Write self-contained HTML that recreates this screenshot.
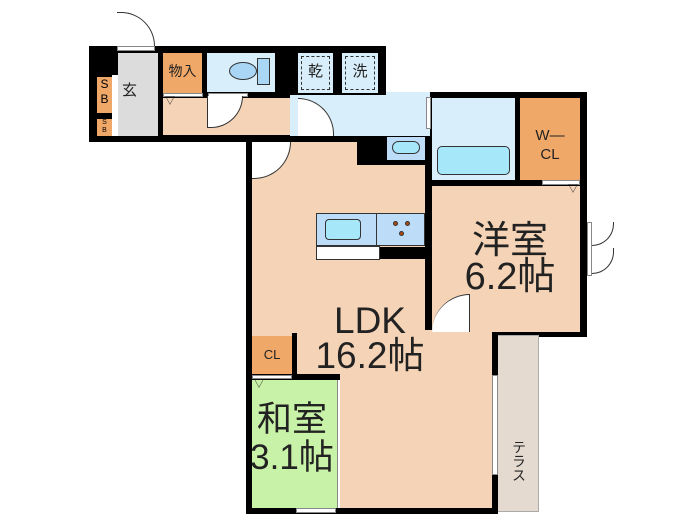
<!DOCTYPE html>
<html><head><meta charset="utf-8"><style>
body{margin:0;background:#fff;width:700px;height:525px;position:relative;overflow:hidden;font-family:"Liberation Sans","Noto Sans CJK JP",sans-serif}
div{position:absolute;box-sizing:border-box}
.k{background:#000}
.t{color:#222;text-align:center;line-height:1}
.dot{width:5px;height:5px;border-radius:50%;background:#b04a10;border:1px solid #333}
</style></head><body>
<div class="k" style="left:89px;top:46px;width:297px;height:96px"></div>
<div class="k" style="left:386px;top:92px;width:201px;height:50px"></div>
<div class="k" style="left:246px;top:135px;width:341px;height:202px"></div>
<div class="k" style="left:246px;top:330px;width:252px;height:184px"></div>
<div style="left:498px;top:335px;width:41px;height:177px;background:#e4dad0;border:1px solid #aaa;border-left:none"></div>
<div style="left:118px;top:53px;width:40px;height:83px;background:#dcdcdc"></div>
<div style="left:112px;top:75px;width:6px;height:61px;background:#fff"></div>
<div style="left:97px;top:77px;width:15px;height:36px;background:#f0a868;font-size:12px;line-height:15px;text-align:center">S<br>B</div>
<div style="left:97px;top:119px;width:15px;height:17px;background:#f0a868;font-size:7px;line-height:8px;text-align:center">S<br>B</div>
<div class="t" style="left:122px;top:83px;font-size:15px">玄</div>
<div style="left:163px;top:53px;width:39px;height:40px;background:#f0a868"></div>
<div class="t" style="left:163px;top:64px;width:39px;font-size:14px">物入</div>
<div style="left:207px;top:53px;width:68px;height:39px;background:#d8eefb"></div>
<div style="left:229px;top:62px;width:28px;height:18px;border:1px solid #333;border-radius:50%;background:#a9d6f5"></div>
<div style="left:257px;top:58px;width:13px;height:27px;border:1px solid #333;background:#a9d6f5"></div>
<div style="left:298px;top:53px;width:35px;height:40px;background:#d8eefb"></div>
<div style="left:301px;top:56px;width:29px;height:34px;border:1px dashed #333"></div>
<div class="t" style="left:298px;top:64px;width:35px;font-size:15px">乾</div>
<div style="left:342px;top:53px;width:36px;height:40px;background:#d8eefb"></div>
<div style="left:345px;top:56px;width:30px;height:34px;border:1px dashed #333"></div>
<div class="t" style="left:342px;top:64px;width:36px;font-size:15px">洗</div>
<div style="left:163px;top:98px;width:127px;height:37px;background:#f4d3b6"></div>
<div style="left:163px;top:93px;width:40px;height:4px;background:#fff;border:1px solid #888"></div>
<div style="left:208px;top:93px;width:40px;height:4px;background:#fff;border:1px solid #888"></div>
<div class="t" style="left:165px;top:97px;font-size:10px">▽</div>
<div style="left:207px;top:96px;width:36px;height:32px;background:#fff;border:1px solid #333;border-radius:0 0 36px 0;border-top:none"></div>
<div style="left:290px;top:95px;width:140px;height:41px;background:#d8eefb"></div>
<div style="left:298px;top:98px;width:36px;height:38px;background:#fff;border:1px solid #333;border-radius:0 36px 0 0;border-left:none;border-bottom:none"></div>
<div style="left:386px;top:92px;width:44px;height:6px;background:#d8eefb"></div>
<div style="left:426px;top:97px;width:5px;height:32px;background:#fff;border:1px solid #888"></div>
<div class="t" style="left:431px;top:98px;font-size:9px">▷</div>
<div style="left:432px;top:98px;width:83px;height:82px;background:#d8eefb"></div>
<div style="left:437px;top:146px;width:73px;height:29px;background:#a6e8fa;border:1px solid #333;border-radius:5px"></div>
<div style="left:387px;top:137px;width:38px;height:23px;background:#bcdcf7"></div>
<div style="left:392px;top:141px;width:28px;height:13px;background:#a6e8fa;border:1px solid #333;border-radius:7px"></div>
<div style="left:520px;top:98px;width:60px;height:82px;background:#f0a868"></div>
<div class="t" style="left:520px;top:126px;width:60px;font-size:15px;line-height:19px">W—<br>CL</div>
<div style="left:252px;top:142px;width:105px;height:193px;background:#f4d3b6"></div>
<div style="left:297px;top:165px;width:128px;height:170px;background:#f4d3b6"></div>
<div style="left:252px;top:330px;width:240px;height:178px;background:#f4d3b6"></div>
<div style="left:252px;top:142px;width:39px;height:37px;background:#fff;border:1px solid #333;border-radius:0 0 38px 0;border-top:none;border-left:none"></div>
<div style="left:316px;top:213px;width:109px;height:33px;background:#bcdcf7;border:1px solid #333"></div>
<div style="left:376px;top:213px;width:1px;height:33px;background:#333"></div>
<div style="left:325px;top:219px;width:36px;height:21px;background:#a6e8fa;border:1px solid #333;border-radius:4px"></div>
<div class="dot" style="left:393px;top:221px"></div>
<div class="dot" style="left:405px;top:221px"></div>
<div class="dot" style="left:399px;top:231px"></div>
<div style="left:316px;top:246px;width:64px;height:14px;background:#fff;border:1px solid #333"></div>
<div class="k" style="left:380px;top:247px;width:45px;height:12px"></div>
<div style="left:432px;top:186px;width:148px;height:146px;background:#f4d3b6"></div>
<div style="left:542px;top:180px;width:38px;height:5px;background:#fff;border:1px solid #888"></div>
<div class="t" style="left:568px;top:185px;font-size:10px">▽</div>
<div style="left:432px;top:294px;width:38px;height:38px;background:#fff;border:1px solid #333;border-radius:38px 0 0 0;border-bottom:none;border-left:none"></div>
<div class="t" style="left:450px;top:222px;width:120px;font-size:38px">洋室</div>
<div class="t" style="left:450px;top:258px;width:120px;font-size:38px">6.2帖</div>
<div style="left:587px;top:222px;width:5px;height:54px;background:#fff;border:1px solid #888"></div>
<div style="left:592px;top:222px;width:22px;height:24px;border:1px solid #333;border-left:none;border-top:none;border-radius:0 0 22px 0"></div>
<div style="left:592px;top:248px;width:22px;height:26px;border:1px solid #333;border-left:none;border-top:none;border-radius:0 0 22px 0"></div>
<div class="t" style="left:305px;top:302px;width:130px;font-size:37px">LDK</div>
<div class="t" style="left:305px;top:337px;width:130px;font-size:37px">16.2帖</div>
<div style="left:252px;top:336px;width:40px;height:38px;background:#f0a868"></div>
<div class="k" style="left:292px;top:333px;width:5px;height:45px"></div>
<div class="t" style="left:252px;top:348px;width:40px;font-size:13px">CL</div>
<div class="k" style="left:252px;top:374px;width:88px;height:6px"></div>
<div style="left:252px;top:375px;width:40px;height:4px;background:#fff;border:1px solid #888"></div>
<div style="left:252px;top:380px;width:85px;height:128px;background:#c8f2a8"></div>
<div class="t" style="left:254px;top:380px;font-size:10px">▽</div>
<div style="left:337px;top:380px;width:3px;height:128px;background:#fff;border-left:1px solid #888"></div>
<div class="t" style="left:248px;top:402px;width:88px;font-size:35px">和室</div>
<div class="t" style="left:248px;top:440px;width:88px;font-size:35px">3.1帖</div>
<div style="left:296px;top:508px;width:40px;height:5px;background:#fff;border:1px solid #888"></div>
<div class="t" style="left:508px;top:440px;width:18px;font-size:14px;writing-mode:vertical-rl">テラス</div>
<div style="left:492px;top:375px;width:6px;height:100px;background:#fff;border:1px solid #888"></div>
<div style="left:492px;top:335px;width:6px;height:40px;background:#000"></div>
<div style="left:117px;top:12px;width:38px;height:34px;background:#fff;border:1px solid #333;border-radius:0 38px 0 0;border-left:none;border-bottom:none"></div>
<div style="left:117px;top:46px;width:38px;height:5px;background:#fff;border:1px solid #888"></div>
</body></html>
